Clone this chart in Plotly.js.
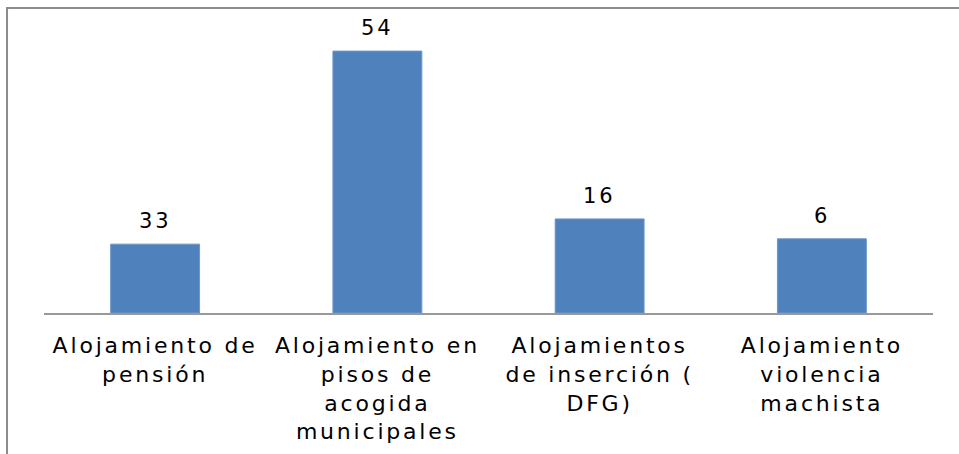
<!DOCTYPE html>
<html>
<head>
<meta charset="utf-8">
<script src="https://cdn.plot.ly/plotly-3.0.1.min.js"></script>
<style>
html,body{margin:0;padding:0;background:#fff;}
#chart{width:959px;height:454px;}
.xtick text{letter-spacing:2.8px;}
.annotation-text{letter-spacing:3px;}
</style>
</head>
<body>
<div id="chart"></div>
<script>
// Category names (tick labels)
const categories = [
  "Alojamiento de<br>pensión",
  "Alojamiento en<br>pisos de<br>acogida<br>municipales",
  "Alojamientos<br>de inserción (<br>DFG)",
  "Alojamiento<br>violencia<br>machista"
];
// Bar heights as drawn in the picture (relative to the tallest bar = 54)
const barHeights = [14.2, 54, 19.4, 15.3];
// Data labels as printed above the bars
const dataLabels = ["33", "54", "16", "6"];

const trace = {
  type: "bar",
  x: categories,
  y: barHeights,
  marker: {color: "#4F81BD", line: {color: "#6d96c8", width: 1}},
  width: 0.4,
  hoverinfo: "skip"
};

const annotations = categories.map((c, i) => ({
  x: c, y: barHeights[i], xref: "x", yref: "y",
  text: dataLabels[i], showarrow: false,
  yanchor: "bottom", yshift: 9,
  font: {family: "DejaVu Sans", size: 21, color: "#000"}
}));

const layout = {
  width: 959, height: 454,
  margin: {l: 44, r: 26, t: 22, b: 141},
  paper_bgcolor: "#fff", plot_bgcolor: "#fff",
  showlegend: false,
  bargap: 0.6,
  xaxis: {
    type: "category",
    showline: true, linecolor: "#999", linewidth: 2,
    ticks: "outside", ticklen: 12, tickcolor: "rgba(0,0,0,0)",
    tickfont: {family: "DejaVu Sans", size: 22, color: "#000"},
    showgrid: false, zeroline: false, fixedrange: true
  },
  yaxis: {
    range: [0, 60], visible: false, showgrid: false, zeroline: false, fixedrange: true
  },
  annotations: annotations,
  shapes: [{
    type: "rect", xref: "paper", yref: "paper",
    x0: -0.0416, x1: 1.2, y0: -0.7, y1: 1.048,
    line: {color: "#8c8c8c", width: 2}, fillcolor: "rgba(0,0,0,0)", layer: "below"
  }]
};

Plotly.newPlot("chart", [trace], layout, {displayModeBar: false, staticPlot: true});
</script>
</body>
</html>
